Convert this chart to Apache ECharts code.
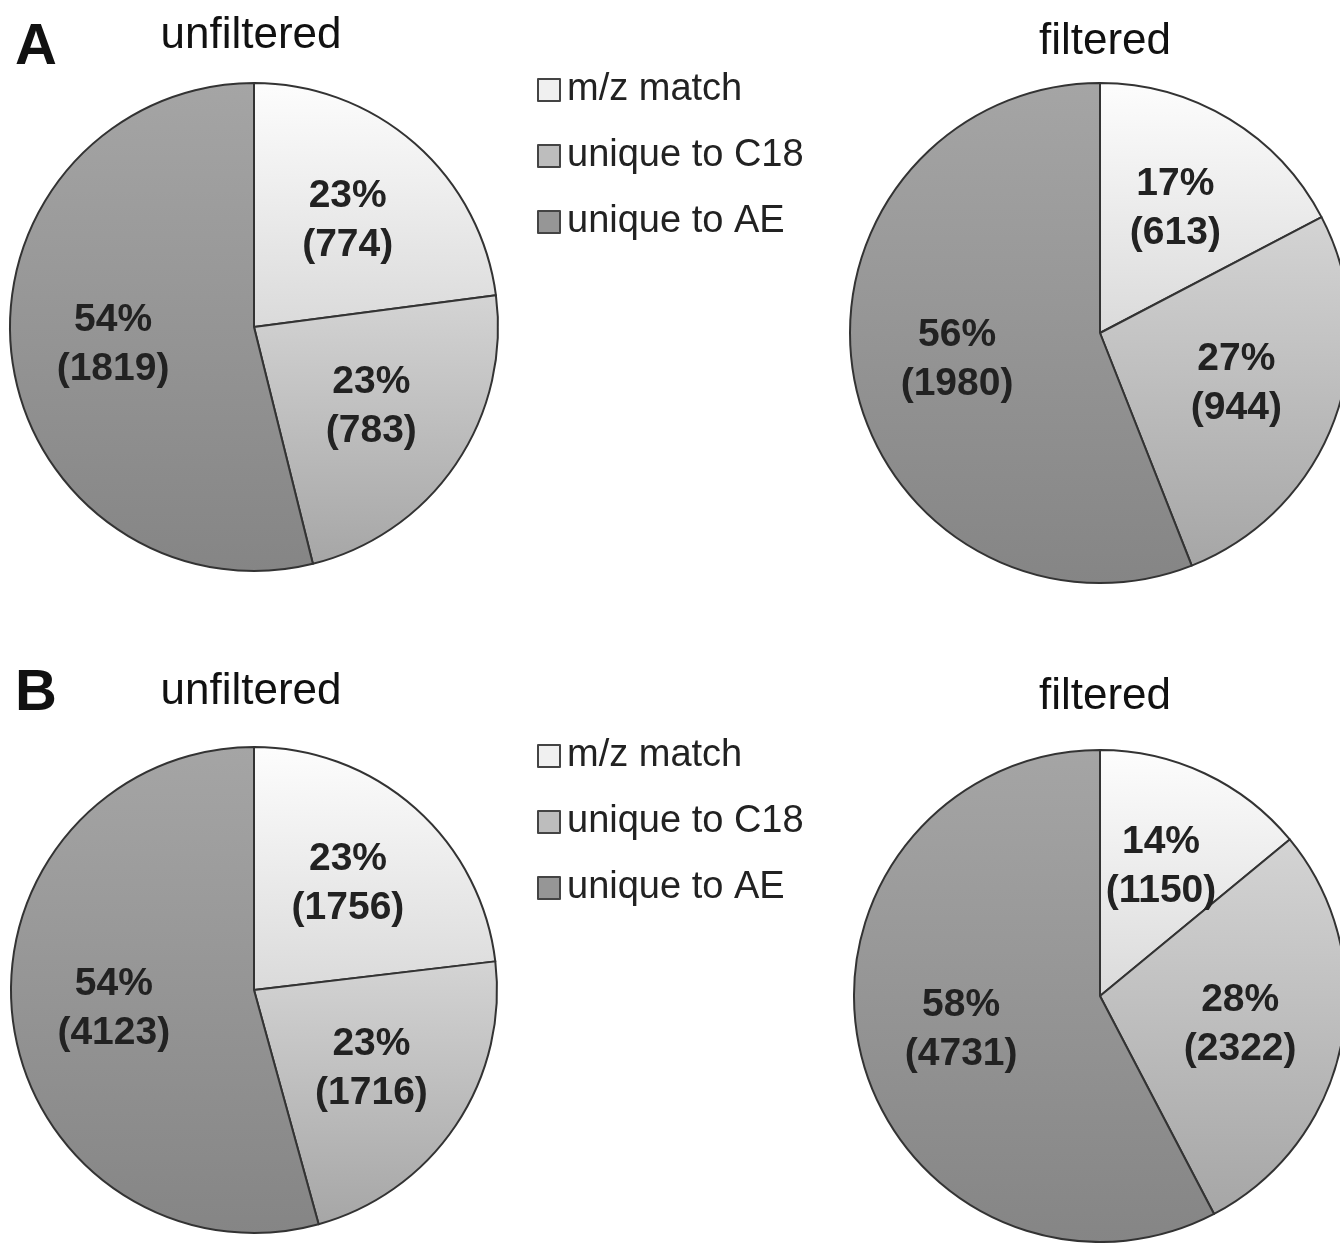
<!DOCTYPE html>
<html>
<head>
<meta charset="utf-8">
<script src="https://cdn.jsdelivr.net/npm/echarts@6/dist/echarts.min.js"></script>
<style>
  html, body { margin: 0; padding: 0; background: #ffffff; }
  #chart { width: 1340px; height: 1243px; }
</style>
</head>
<body>
<div id="chart"></div>
<script>
// Feature categories shared by all four pies
const categories = ['m/z match', 'unique to C18', 'unique to AE'];

// Feature counts per panel
const aUnfiltered = [774, 783, 1819];
const aFiltered = [613, 944, 1980];
const bUnfiltered = [1756, 1716, 4123];
const bFiltered = [1150, 2322, 4731];

const panelLetters = ['A', 'B'];
const pieTitles = ['unfiltered', 'filtered'];

// Vertical grey gradients for each slice (top, bottom)
const sliceShades = [
  ['#fdfdfd', '#dadada'],
  ['#d4d4d4', '#a6a6a6'],
  ['#a5a5a5', '#858585']
];
const legendSwatches = ['#f0f0f0', '#bdbdbd', '#969696'];

const FONT = 'Liberation Sans, Arial, Helvetica, sans-serif';

function shade(i) {
  return new echarts.graphic.LinearGradient(0, 0, 0, 1, [
    { offset: 0, color: sliceShades[i][0] },
    { offset: 1, color: sliceShades[i][1] }
  ]);
}

function toData(values) {
  return categories.map((name, i) => ({
    name: name,
    value: values[i],
    itemStyle: { color: shade(i) }
  }));
}

// Draws one pie: the filled disc, plus a transparent, slightly larger
// twin that only carries the labels so they sit a bit further out.
function pie(values, center, radius) {
  const base = {
    type: 'pie',
    center: center,
    startAngle: 90,
    clockwise: true,
    animation: false,
    avoidLabelOverlap: false,
    emphasis: { disabled: true },
    labelLine: { show: false }
  };
  const disc = Object.assign({}, base, {
    radius: [0, radius],
    data: toData(values),
    itemStyle: { borderColor: '#333333', borderWidth: 2 },
    label: { show: false }
  });
  const labels = Object.assign({}, base, {
    radius: [0, Math.round(radius * 1.14)],
    silent: true,
    legendHoverLink: false,
    data: categories.map((name, i) => ({
      name: name,
      value: values[i],
      itemStyle: { color: 'rgba(0,0,0,0)', borderWidth: 0 }
    })),
    label: {
      show: true,
      position: 'inside',
      formatter: p => Math.round(p.percent) + '%\n(' + p.value + ')',
      fontFamily: FONT,
      fontWeight: 'bold',
      fontSize: 39,
      lineHeight: 49,
      color: '#222222'
    }
  });
  return [disc, labels];
}

function legendAt(top) {
  return {
    orient: 'vertical',
    left: 532,
    top: top,
    itemWidth: 22,
    itemHeight: 22,
    itemGap: 28,
    icon: 'rect',
    selectedMode: false,
    textStyle: {
      fontFamily: FONT,
      fontSize: 38,
      color: '#222222',
      padding: [0, 0, 0, 2]
    },
    data: categories.map((name, i) => ({
      name: name,
      itemStyle: { color: legendSwatches[i], borderColor: '#444444', borderWidth: 2 }
    }))
  };
}

function titleAt(text, x, y, size, weight) {
  return {
    text: text,
    left: x,
    top: y,
    textAlign: 'center',
    textStyle: { fontFamily: FONT, fontSize: size, fontWeight: weight, color: '#111111' }
  };
}

const chart = echarts.init(document.getElementById('chart'), null, { renderer: 'canvas' });

chart.setOption({
  backgroundColor: '#ffffff',
  title: [
    titleAt(panelLetters[0], 31, 14, 58, 'bold'),
    titleAt(pieTitles[0], 246, 9, 44, 'normal'),
    titleAt(pieTitles[1], 1100, 15, 44, 'normal'),
    titleAt(panelLetters[1], 31, 660, 58, 'bold'),
    titleAt(pieTitles[0], 246, 665, 44, 'normal'),
    titleAt(pieTitles[1], 1100, 670, 44, 'normal')
  ],
  legend: [legendAt(66), legendAt(732)],
  series: [].concat(
    pie(aUnfiltered, [254, 327], 244),
    pie(aFiltered, [1100, 333], 250),
    pie(bUnfiltered, [254, 990], 243),
    pie(bFiltered, [1100, 996], 246)
  )
});
</script>
</body>
</html>
